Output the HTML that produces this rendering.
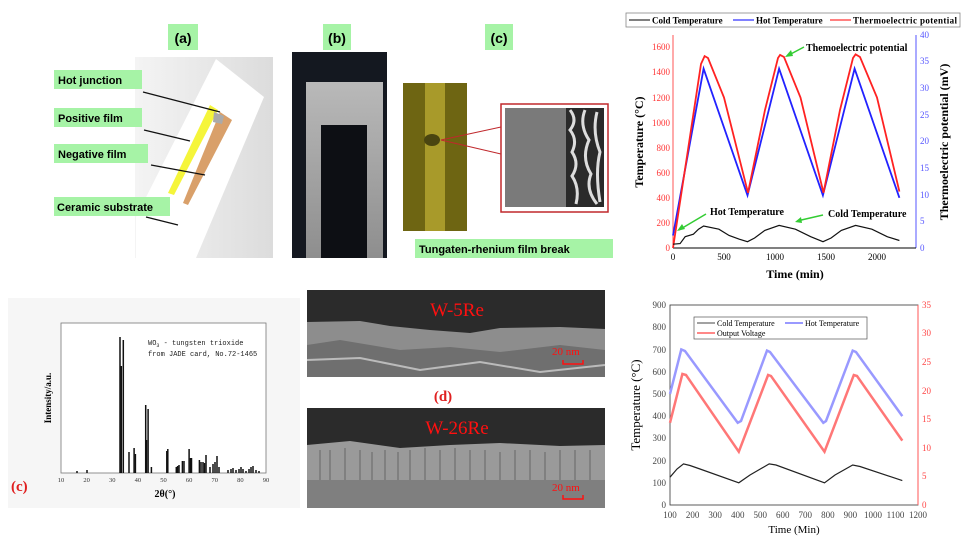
<!DOCTYPE html>
<html><head><meta charset="utf-8"><style>
body{margin:0;background:#fff;}
svg{display:block;}
.sb{font-family:"Liberation Sans",sans-serif;font-weight:bold;}
</style></head><body>
<svg width="975" height="547" viewBox="0 0 975 547" xmlns="http://www.w3.org/2000/svg">
<defs>
<linearGradient id="ga" x1="0" x2="1"><stop offset="0" stop-color="#f4f4f4"/><stop offset="1" stop-color="#dcdcdc"/></linearGradient>
<linearGradient id="gs" x1="0" x2="0" y1="0" y2="1"><stop offset="0" stop-color="#b9b9b9"/><stop offset="1" stop-color="#8e8e8e"/></linearGradient>
</defs>
<!-- panel a -->
<rect x="135" y="57" width="138" height="201" fill="url(#ga)"/>
<polygon points="216,59 264,97 196,258 136,258 136,217" fill="#fff"/>
<polygon points="210,105 218,110 174,195 168,193" fill="#f5f53a"/>
<polygon points="220,112 232,120 188,205 183,203" fill="#d9a06a"/>
<polygon points="214,112 224,116 222,124 213,122" fill="#aaa"/>
<rect x="168" y="24" width="30" height="26" fill="#a6f3a6"/><text x="183" y="43" text-anchor="middle" class="sb" font-size="14">(a)</text>
<rect x="54" y="70" width="88" height="19" fill="#a6f3a6"/><text x="58" y="84" class="sb" font-size="11">Hot junction</text>
<rect x="54" y="108" width="88" height="19" fill="#a6f3a6"/><text x="58" y="122" class="sb" font-size="11">Positive film</text>
<rect x="54" y="144" width="94" height="19" fill="#a6f3a6"/><text x="58" y="158" class="sb" font-size="11">Negative film</text>
<rect x="54" y="197" width="116" height="19" fill="#a6f3a6"/><text x="57" y="211" class="sb" font-size="11">Ceramic substrate</text>
<g stroke="#111" stroke-width="1.2"><line x1="143" y1="92" x2="220" y2="112"/><line x1="144" y1="130" x2="190" y2="141"/><line x1="151" y1="165" x2="205" y2="175"/><line x1="146" y1="217" x2="178" y2="225"/></g>
<!-- panel b -->
<rect x="323" y="24" width="28" height="26" fill="#a6f3a6"/><text x="337" y="43" text-anchor="middle" class="sb" font-size="14">(b)</text>
<rect x="292" y="52" width="95" height="206" fill="#141820"/>
<rect x="306" y="82" width="77" height="176" fill="url(#gs)"/>
<rect x="321" y="125" width="46" height="133" fill="#0d0f14"/>
<!-- panel c -->
<rect x="485" y="24" width="28" height="26" fill="#a6f3a6"/><text x="499" y="43" text-anchor="middle" class="sb" font-size="14">(c)</text>
<rect x="403" y="83" width="64" height="148" fill="#6e6512"/>
<rect x="425" y="83" width="20" height="148" fill="#a89a2a"/>
<ellipse cx="432" cy="140" rx="8" ry="6" fill="#4a4510"/>
<g stroke="#c0282c" stroke-width="1"><line x1="441" y1="140" x2="501" y2="127"/><line x1="441" y1="140" x2="501" y2="154"/></g>
<rect x="501" y="104" width="107" height="108" fill="#fff" stroke="#c0282c" stroke-width="1.5"/>
<rect x="505" y="108" width="99" height="99" fill="#7a7a7a"/>
<rect x="566" y="108" width="38" height="99" fill="#2a2a2a"/>
<path d="M570 110 q8 10 0 20 q8 10 2 22 q8 12 0 24 q8 12 4 28 M585 110 q-6 15 4 30 q-8 18 2 34 q-6 15 6 30 M597 112 q-5 20 3 40 q-5 20 0 50" stroke="#ddd" stroke-width="3" fill="none"/>
<rect x="415" y="239" width="198" height="19" fill="#a6f3a6"/><text x="419" y="253" class="sb" font-size="11">Tungaten-rhenium film break</text>

<!-- top-right chart -->
<g font-family="Liberation Serif,serif">
<rect x="626" y="13" width="334" height="14" fill="#fff" stroke="#888" stroke-width="0.8"/>
<line x1="629" y1="20" x2="650" y2="20" stroke="#000"/><text x="652" y="23.5" font-size="9" font-weight="bold">Cold Temperature</text>
<line x1="733" y1="20" x2="754" y2="20" stroke="#00f"/><text x="756" y="23.5" font-size="9" font-weight="bold">Hot Temperature</text>
<line x1="830" y1="20" x2="851" y2="20" stroke="#f00"/><text x="853" y="23.5" font-size="9" font-weight="bold" textLength="104">Thermoelectric potential</text>
<line x1="673" y1="35" x2="673" y2="248" stroke="#f55"/>
<line x1="916" y1="35" x2="916" y2="248" stroke="#55f"/>
<line x1="673" y1="248" x2="916" y2="248" stroke="#000"/>
<g font-size="9" fill="#f33" text-anchor="end">
<text x="670" y="251">0</text><text x="670" y="226">200</text><text x="670" y="201">400</text><text x="670" y="176">600</text><text x="670" y="151">800</text><text x="670" y="126">1000</text><text x="670" y="101">1200</text><text x="670" y="75">1400</text><text x="670" y="50">1600</text></g>
<g font-size="9" fill="#55f"><text x="920" y="251">0</text><text x="920" y="224">5</text><text x="920" y="198">10</text><text x="920" y="171">15</text><text x="920" y="144">20</text><text x="920" y="118">25</text><text x="920" y="91">30</text><text x="920" y="64">35</text><text x="920" y="38">40</text></g>
<g font-size="9" text-anchor="middle"><text x="673" y="260">0</text><text x="724" y="260">500</text><text x="775" y="260">1000</text><text x="826" y="260">1500</text><text x="877" y="260">2000</text></g>
<text x="795" y="278" font-size="12" font-weight="bold" text-anchor="middle">Time (min)</text>
<text transform="translate(643,142) rotate(-90)" font-size="12" font-weight="bold" text-anchor="middle">Temperature (°C)</text>
<text transform="translate(948,142) rotate(-90)" font-size="12" font-weight="bold" text-anchor="middle">Thermoelectric potential (mV)</text>
<polyline fill="none" stroke="#22f" stroke-width="1.8" points="673,235.5 703.6,68.7 747.5,195.3 779.1,68.7 822.9,195.3 854.6,68.7 899.4,197.8"/>
<polyline fill="none" stroke="#f22" stroke-width="1.8" points="673,248 688.3,147.7 701,64 704.6,56.1 708,58 724,97.5 748,192.8 765,110 778,58 780.1,54.9 784,57 800.5,97.5 823.5,192.8 840,110 853,58 855.6,54.3 860,57 877,97.5 899.4,191.6"/>
<polyline fill="none" stroke="#111" stroke-width="1.2" points="673,244.2 680.1,243.6 685.2,236.7 693.4,234.2 698.5,229.2 703.6,226 718.9,229.2 729.1,235.5 739.3,239.2 747.5,241.7 754.6,238 764.8,230.4 779.1,225.4 795.4,229.2 810.7,236.7 823,241.7 831.1,238 841.3,230.4 855.6,225.4 871.9,229.2 887.2,236.7 899.4,240.5"/>
<g font-size="10" font-weight="bold"><text x="806" y="51">Themoelectric potential</text><text x="710" y="215">Hot Temperature</text><text x="828" y="217">Cold Temperature</text></g>
<g stroke="#3c3" stroke-width="1.5"><line x1="804" y1="47" x2="787" y2="56"/><line x1="706" y1="214" x2="679" y2="230"/><line x1="823" y1="215" x2="797" y2="221"/></g>
<g fill="#3c3"><polygon points="785,57 791,50 793,56"/><polygon points="677,231 682,224 685,229"/><polygon points="795,222 801,217 802,223"/></g>
</g>

<!-- XRD -->
<rect x="8" y="298" width="292" height="210" fill="#f6f6f6"/>
<rect x="61" y="323" width="205" height="150" fill="#fff" stroke="#777" stroke-width="0.8"/>
<g stroke="#111" stroke-width="1.5">
<line x1="77" y1="473" x2="77" y2="471"/><line x1="87" y1="473" x2="87" y2="470"/>
<line x1="120" y1="473" x2="120" y2="337"/><line x1="121.3" y1="473" x2="121.3" y2="366"/><line x1="123.3" y1="473" x2="123.3" y2="340"/>
<line x1="129" y1="473" x2="129" y2="452"/><line x1="134.1" y1="473" x2="134.1" y2="448"/><line x1="135.4" y1="473" x2="135.4" y2="454"/>
<line x1="145.7" y1="473" x2="145.7" y2="405"/><line x1="146.5" y1="473" x2="146.5" y2="440"/><line x1="148.1" y1="473" x2="148.1" y2="409"/><line x1="151.4" y1="473" x2="151.4" y2="467"/>
<line x1="166.8" y1="473" x2="166.8" y2="451"/><line x1="167.8" y1="473" x2="167.8" y2="449"/><line x1="176.3" y1="473" x2="176.3" y2="467"/><line x1="177.6" y1="473" x2="177.6" y2="466"/><line x1="179" y1="473" x2="179" y2="465"/>
<line x1="182.4" y1="473" x2="182.4" y2="461"/><line x1="184" y1="473" x2="184" y2="461"/>
<line x1="189.1" y1="473" x2="189.1" y2="449"/><line x1="190.4" y1="473" x2="190.4" y2="458"/><line x1="191.5" y1="473" x2="191.5" y2="458"/>
<line x1="199.4" y1="473" x2="199.4" y2="460"/><line x1="201" y1="473" x2="201" y2="462"/><line x1="203" y1="473" x2="203" y2="462"/><line x1="204.5" y1="473" x2="204.5" y2="463"/><line x1="206" y1="473" x2="206" y2="455"/>
<line x1="210" y1="473" x2="210" y2="467"/><line x1="213" y1="473" x2="213" y2="464"/><line x1="215" y1="473" x2="215" y2="462"/><line x1="217" y1="473" x2="217" y2="456"/><line x1="219" y1="473" x2="219" y2="467"/>
<line x1="228" y1="473" x2="228" y2="470"/><line x1="231" y1="473" x2="231" y2="469"/><line x1="233" y1="473" x2="233" y2="468"/><line x1="236" y1="473" x2="236" y2="470"/>
<line x1="239" y1="473" x2="239" y2="469"/><line x1="241" y1="473" x2="241" y2="467"/><line x1="243" y1="473" x2="243" y2="469"/><line x1="246" y1="473" x2="246" y2="471"/><line x1="249" y1="473" x2="249" y2="469"/><line x1="251" y1="473" x2="251" y2="467"/><line x1="253" y1="473" x2="253" y2="466"/><line x1="256" y1="473" x2="256" y2="470"/><line x1="259" y1="473" x2="259" y2="471"/>
</g>
<g font-family="Liberation Mono,monospace" font-size="7" fill="#222">
<text x="148" y="345">WO<tspan font-size="5" dy="2">3</tspan><tspan dy="-2"> - tungsten trioxide</tspan></text>
<text x="148" y="356">from JADE card, No.72-1465</text></g>
<g font-family="Liberation Serif,serif" font-size="6.5" fill="#333" text-anchor="middle">
<text x="61" y="482">10</text><text x="86.6" y="482">20</text><text x="112.3" y="482">30</text><text x="137.9" y="482">40</text><text x="163.5" y="482">50</text><text x="189.1" y="482">60</text><text x="214.8" y="482">70</text><text x="240.4" y="482">80</text><text x="266" y="482">90</text></g>
<text x="165" y="497" font-family="Liberation Serif,serif" font-size="10" font-weight="bold" text-anchor="middle">2θ(°)</text>
<text transform="translate(51,398) rotate(-90)" font-family="Liberation Serif,serif" font-size="9" font-weight="bold" text-anchor="middle">Intensity/a.u.</text>
<text x="11" y="491" font-family="Liberation Serif,serif" font-size="15" font-weight="bold" fill="#e02020">(c)</text>

<!-- SEM -->
<rect x="307" y="290" width="298" height="87" fill="#2b2b2b"/>
<path d="M307 322 L360 321 L390 326 L430 330 L470 333 L500 328 L560 327 L605 329 L605 377 L307 377 Z" fill="#8d8d8d"/>
<path d="M307 345 L340 340 L400 350 L450 347 L500 352 L560 345 L605 350 L605 377 L307 377 Z" fill="#6f6f6f"/>
<path d="M307 360 L360 358 L420 370 L480 362 L540 372 L605 365" stroke="#bbb" stroke-width="2" fill="none"/>
<text x="457" y="316" font-family="Liberation Serif,serif" font-size="19" fill="#ff1010" text-anchor="middle">W-5Re</text>
<text x="552" y="355" font-family="Liberation Serif,serif" font-size="11" fill="#ff1010">20 nm</text>
<path d="M563 360 v4 h20 v-4" stroke="#ff1010" stroke-width="1.5" fill="none"/>
<text x="443" y="401" font-family="Liberation Serif,serif" font-size="15" font-weight="bold" fill="#e02020" text-anchor="middle">(d)</text>
<rect x="307" y="408" width="298" height="100" fill="#2b2b2b"/>
<path d="M307 445 L350 441 L400 448 L450 445 L500 443 L560 446 L605 445 L605 508 L307 508 Z" fill="#9a9a9a"/>
<g stroke="#777" stroke-width="1.5"><path d="M320 450v30M330 450v30M345 448v32M360 450v30M372 452v28M385 450v30M398 452v28M410 450v30M425 448v32M440 450v30M455 448v32M470 450v30M485 450v30M500 452v28M515 450v30M530 450v30M545 452v28M560 450v30M575 450v30M590 450v30"/></g>
<path d="M307 480 L605 480 L605 508 L307 508 Z" fill="#7f7f7f"/>
<text x="457" y="434" font-family="Liberation Serif,serif" font-size="19" fill="#ff1010" text-anchor="middle">W-26Re</text>
<text x="552" y="491" font-family="Liberation Serif,serif" font-size="11" fill="#ff1010">20 nm</text>
<path d="M563 495 v4 h20 v-4" stroke="#ff1010" stroke-width="1.5" fill="none"/>

<!-- bottom-right chart -->
<g font-family="Liberation Serif,serif">
<rect x="670" y="305" width="248" height="200" fill="none" stroke="#333" stroke-width="0.8"/>
<line x1="918" y1="305" x2="918" y2="505" stroke="#f55"/>
<g font-size="9" fill="#444" text-anchor="end">
<text x="666" y="508">0</text><text x="666" y="486">100</text><text x="666" y="464">200</text><text x="666" y="441">300</text><text x="666" y="419">400</text><text x="666" y="397">500</text><text x="666" y="375">600</text><text x="666" y="353">700</text><text x="666" y="330">800</text><text x="666" y="308">900</text></g>
<g font-size="9" fill="#f44"><text x="922" y="508">0</text><text x="922" y="479">5</text><text x="922" y="451">10</text><text x="922" y="422">15</text><text x="922" y="394">20</text><text x="922" y="365">25</text><text x="922" y="336">30</text><text x="922" y="308">35</text></g>
<g font-size="9" fill="#444" text-anchor="middle"><text x="670" y="518">100</text><text x="692.6" y="518">200</text><text x="715.1" y="518">300</text><text x="737.7" y="518">400</text><text x="760.2" y="518">500</text><text x="782.8" y="518">600</text><text x="805.3" y="518">700</text><text x="827.9" y="518">800</text><text x="850.4" y="518">900</text><text x="873" y="518">1000</text><text x="895.5" y="518">1100</text><text x="918" y="518">1200</text></g>
<text x="794" y="533" font-size="11" text-anchor="middle">Time (Min)</text>
<text transform="translate(640,405) rotate(-90)" font-size="13" text-anchor="middle">Temperature (°C)</text>
<rect x="694" y="317" width="173" height="22" fill="#fff" stroke="#555" stroke-width="0.7"/>
<line x1="697" y1="323" x2="715" y2="323" stroke="#444"/><text x="717" y="326" font-size="8">Cold Temperature</text>
<line x1="785" y1="323" x2="803" y2="323" stroke="#99f" stroke-width="2"/><text x="805" y="326" font-size="8">Hot Temperature</text>
<line x1="697" y1="333" x2="715" y2="333" stroke="#f88" stroke-width="2"/><text x="717" y="336" font-size="8">Output Voltage</text>
<polyline fill="none" stroke="#99f" stroke-width="2.5" points="670,393.9 681.3,349.5 685,351 737.7,422.8 741,421 767,350.6 770,352 823.3,422.8 826,421 852.7,350.6 856,352 902.3,416.1"/>
<polyline fill="none" stroke="#f77" stroke-width="2.5" points="670,422.8 682.4,373.9 686,375 738.8,451.7 768.1,375 771,376 824.5,451.7 853.8,375 857,376 902.3,440.6"/>
<polyline fill="none" stroke="#222" stroke-width="1.2" points="670,477.2 677,469 683.5,463.9 690,465.5 700,469 738.8,482.8 750,475 769.2,463.9 776,465 824.5,482.8 835,475 852.7,465 860,466.5 902.3,480.6"/>
</g>
</svg>
</body></html>
